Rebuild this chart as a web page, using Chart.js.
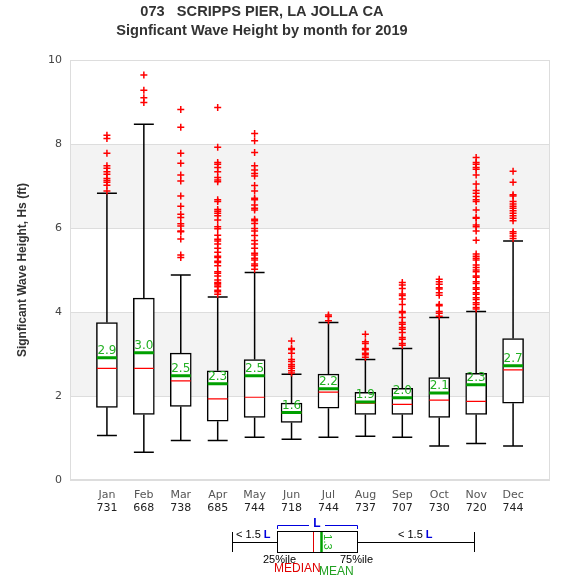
<!DOCTYPE html>
<html>
<head>
<meta charset="utf-8">
<script src="https://cdn.jsdelivr.net/npm/chart.js@4.4.0/dist/chart.umd.min.js"></script>
<style>
  body { margin: 0; background: #fff; }
</style>
</head>
<body>
<canvas id="waveChart" width="575" height="580"></canvas>
<script>
// ====== Data ======
const months = ["Jan", "Feb", "Mar", "Apr", "May", "Jun", "Jul", "Aug", "Sep", "Oct", "Nov", "Dec"];
const counts = [731, 668, 738, 685, 744, 718, 744, 737, 707, 730, 720, 744];

const lowWhisker  = [1.06, 0.66, 0.94, 0.94, 1.02, 0.97, 1.02, 1.04, 1.02, 0.81, 0.87, 0.81];
const q1          = [1.73, 1.56, 1.75, 1.40, 1.49, 1.37, 1.71, 1.56, 1.56, 1.49, 1.56, 1.83];
const medians     = [2.66, 2.66, 2.36, 1.93, 1.97, 1.60, 2.09, 1.83, 1.80, 1.90, 1.87, 2.62];
const means       = [2.91, 3.03, 2.48, 2.29, 2.48, 1.61, 2.17, 1.86, 1.96, 2.07, 2.27, 2.72];
const q3          = [3.75, 4.33, 3.02, 2.60, 2.87, 1.83, 2.52, 2.09, 2.18, 2.44, 2.54, 3.37];
const highWhisker = [6.83, 8.47, 4.88, 4.36, 4.94, 2.52, 3.75, 2.87, 3.13, 3.87, 4.01, 5.69];

const outliers = [
  [8.21, 8.13, 7.78, 7.48, 7.42, 7.34, 7.28, 7.18, 7.13, 7.09, 7.02, 6.88],
  [9.64, 9.28, 9.10, 8.99],
  [8.82, 8.40, 7.78, 7.54, 7.26, 7.12, 6.76, 6.52, 6.33, 6.25, 6.10, 6.05, 5.93, 5.91, 5.74, 5.36, 5.30],
  [8.87, 7.92, 7.56, 7.52, 7.44, 7.34, 7.20, 7.14, 7.10, 6.67, 6.63, 6.44, 6.40, 6.35, 6.29, 6.19,
   6.03, 5.98, 5.83, 5.73, 5.69, 5.62, 5.52, 5.42, 5.33, 5.30, 5.21, 5.18, 5.10, 4.96, 4.92, 4.86,
   4.76, 4.70, 4.68, 4.64, 4.60, 4.52, 4.48, 4.42],
  [8.25, 8.08, 7.80, 7.48, 7.38, 7.30, 7.24, 7.01, 6.88, 6.71, 6.67, 6.55, 6.47, 6.43, 6.21, 6.17,
   6.11, 5.99, 5.93, 5.82, 5.70, 5.62, 5.52, 5.40, 5.36, 5.28, 5.24, 5.14, 5.10, 5.02],
  [3.31, 3.13, 3.11, 3.02, 2.87, 2.82, 2.75, 2.71, 2.66, 2.60, 2.55],
  [3.93, 3.89, 3.79],
  [3.47, 3.29, 3.25, 3.13, 3.10, 3.02, 2.98, 2.92],
  [4.70, 4.64, 4.56, 4.43, 4.39, 4.31, 4.18, 4.01, 3.98, 3.87, 3.75, 3.71, 3.63, 3.59, 3.51, 3.39,
   3.35, 3.25, 3.21],
  [4.78, 4.72, 4.66, 4.58, 4.55, 4.46, 4.40, 4.18, 4.15, 4.01, 3.97, 3.90],
  [7.68, 7.56, 7.52, 7.44, 7.40, 7.26, 7.05, 6.89, 6.83, 6.75, 6.67, 6.63, 6.43, 6.25, 6.23, 6.07,
   6.03, 5.93, 5.71, 5.38, 5.33, 5.28, 5.24, 5.12, 5.06, 5.00, 4.96, 4.86, 4.83, 4.72, 4.68, 4.58,
   4.54, 4.46, 4.42, 4.34, 4.30, 4.22, 4.18, 4.11, 4.07],
  [7.35, 7.09, 6.79, 6.76, 6.63, 6.57, 6.52, 6.47, 6.41, 6.35, 6.29, 6.23, 6.17, 5.91, 5.87, 5.81, 5.75]
];

const bands = [[2, 4], [6, 8]];
const yTicks = [0, 2, 4, 6, 8, 10];

// ====== Build segment datasets ======
const HALF = 0.27; // half width of box / caps in x units
const gap = (x) => ({ x: x, y: null });

const whiskerPts = [];
const medianPts = [];
const meanPts = [];
const outlierPts = [];
months.forEach((m, i) => {
  const x = i + 1;
  whiskerPts.push({ x, y: lowWhisker[i] }, { x, y: q1[i] }, gap(x));
  whiskerPts.push({ x, y: q3[i] }, { x, y: highWhisker[i] }, gap(x));
  whiskerPts.push({ x: x - HALF, y: lowWhisker[i] }, { x: x + HALF, y: lowWhisker[i] }, gap(x));
  whiskerPts.push({ x: x - HALF, y: highWhisker[i] }, { x: x + HALF, y: highWhisker[i] }, gap(x));
  medianPts.push({ x: x - HALF, y: medians[i] }, { x: x + HALF, y: medians[i] }, gap(x));
  meanPts.push({ x: x - HALF, y: means[i] }, { x: x + HALF, y: means[i] }, gap(x));
  outliers[i].forEach(v => outlierPts.push({ x, y: v }));
});

// ====== Plugins ======
const bandsPlugin = {
  id: "bands",
  beforeDraw(chart) {
    const { ctx, chartArea: a, scales: { y } } = chart;
    ctx.save();
    ctx.fillStyle = "#f3f3f3";
    bands.forEach(([lo, hi]) => {
      const top = y.getPixelForValue(hi), bot = y.getPixelForValue(lo);
      ctx.fillRect(a.left, top, a.right - a.left, bot - top);
    });
    ctx.restore();
  },
  beforeDatasetsDraw(chart) {
    const { ctx, chartArea: a } = chart;
    ctx.save();
    ctx.strokeStyle = "#dddddd";
    ctx.lineWidth = 1;
    ctx.strokeRect(a.left + 0.5, a.top + 0.5, a.right - a.left - 1, a.bottom - a.top - 1);
    ctx.restore();
  }
};

const labelsPlugin = {
  id: "labels",
  afterDatasetsDraw(chart) {
    const { ctx, scales: { x, y } } = chart;
    ctx.save();
    ctx.font = "12px 'DejaVu Sans'";
    ctx.textAlign = "center";
    ctx.textBaseline = "bottom";
    ctx.fillStyle = "#22b022";
    means.forEach((v, i) => {
      ctx.fillText(v.toFixed(1), x.getPixelForValue(i + 1), y.getPixelForValue(v) - 1);
    });
    ctx.font = "11px 'DejaVu Sans'";
    ctx.fillStyle = "#222";
    ctx.textBaseline = "middle";
    counts.forEach((c, i) => {
      ctx.fillText(String(c), x.getPixelForValue(i + 1), 508);
    });
    ctx.restore();
  }
};

const titlePlugin = {
  id: "titles",
  afterDraw(chart) {
    const { ctx } = chart;
    ctx.save();
    ctx.fillStyle = "#333";
    ctx.textAlign = "center";
    ctx.textBaseline = "middle";
    ctx.font = "bold 14.6px 'Liberation Sans'";
    ctx.fillText("073   SCRIPPS PIER, LA JOLLA CA", 262, 12);
    ctx.fillText("Signficant Wave Height by month for 2019", 262, 31);
    ctx.restore();
  }
};

const keyPlugin = {
  id: "boxKey",
  afterDraw(chart) {
    const { ctx } = chart;
    ctx.save();
    ctx.strokeStyle = "#000";
    ctx.lineWidth = 1;
    // whiskers
    ctx.beginPath();
    ctx.moveTo(232.5, 532); ctx.lineTo(232.5, 552);
    ctx.moveTo(232.5, 542.5); ctx.lineTo(277.5, 542.5);
    ctx.moveTo(357.5, 542.5); ctx.lineTo(474.5, 542.5);
    ctx.moveTo(474.5, 532); ctx.lineTo(474.5, 552);
    ctx.stroke();
    ctx.strokeRect(277.5, 531.5, 80, 21);
    // median / mean
    ctx.strokeStyle = "#e00000";
    ctx.beginPath(); ctx.moveTo(313.5, 532); ctx.lineTo(313.5, 552); ctx.stroke();
    ctx.strokeStyle = "#00a000";
    ctx.lineWidth = 2.5;
    ctx.beginPath(); ctx.moveTo(321.5, 532); ctx.lineTo(321.5, 552); ctx.stroke();
    // rotated mean value
    ctx.save();
    ctx.translate(327, 542);
    ctx.rotate(Math.PI / 2);
    ctx.fillStyle = "#22b022";
    ctx.font = "11px 'Liberation Sans'";
    ctx.textAlign = "center";
    ctx.textBaseline = "middle";
    ctx.fillText("1.3", 0, 0);
    ctx.restore();
    // blue bracket
    ctx.strokeStyle = "#0000dd";
    ctx.lineWidth = 1;
    ctx.beginPath();
    ctx.moveTo(277.5, 529); ctx.lineTo(277.5, 525.5); ctx.lineTo(309, 525.5);
    ctx.moveTo(325, 525.5); ctx.lineTo(357.5, 525.5); ctx.lineTo(357.5, 529);
    ctx.stroke();
    ctx.fillStyle = "#0000dd";
    ctx.font = "bold 12px 'Liberation Sans'";
    ctx.textAlign = "center";
    ctx.textBaseline = "middle";
    ctx.fillText("L", 317, 524);
    // "< 1.5 L" labels
    ctx.textAlign = "left";
    [[236, 535], [398, 535]].forEach(([x0, y0]) => {
      ctx.font = "11px 'Liberation Sans'";
      ctx.fillStyle = "#000";
      ctx.fillText("< 1.5 ", x0, y0);
      const w = ctx.measureText("< 1.5 ").width;
      ctx.font = "bold 11px 'Liberation Sans'";
      ctx.fillStyle = "#0000dd";
      ctx.fillText("L", x0 + w, y0);
    });
    ctx.font = "11px 'Liberation Sans'";
    ctx.fillStyle = "#000";
    ctx.fillText("25%ile", 263, 560);
    ctx.fillText("75%ile", 340, 560);
    ctx.font = "12px 'Liberation Sans'";
    ctx.fillStyle = "#e00000";
    ctx.fillText("MEDIAN", 274, 569);
    ctx.fillStyle = "#22a022";
    ctx.fillText("MEAN", 319, 572);
    ctx.restore();
  }
};

// ====== Chart.js ======
const ctx = document.getElementById("waveChart").getContext("2d");

const waveChart = new Chart(ctx, {
  type: "bar",
  data: {
    datasets: [
      {
        type: "scatter",
        data: outlierPts,
        pointStyle: "cross",
        pointRadius: 3.5,
        borderColor: "#ff0000",
        borderWidth: 1.5,
        order: 0
      },
      {
        type: "line",
        data: meanPts,
        borderColor: "#00a000",
        borderWidth: 3,
        pointRadius: 0,
        spanGaps: false,
        order: 1
      },
      {
        type: "line",
        data: medianPts,
        borderColor: "#ff0000",
        borderWidth: 1.2,
        pointRadius: 0,
        spanGaps: false,
        order: 1
      },
      {
        type: "bar",
        data: months.map((m, i) => ({ x: i + 1, y: [q1[i], q3[i]] })),
        backgroundColor: "#ffffff",
        borderColor: "#000000",
        borderWidth: 1.5,
        borderSkipped: false,
        barThickness: 21,
        order: 2
      },
      {
        type: "line",
        data: whiskerPts,
        borderColor: "#000000",
        borderWidth: 1.5,
        pointRadius: 0,
        spanGaps: false,
        order: 3
      }
    ]
  },
  plugins: [bandsPlugin, labelsPlugin, titlePlugin, keyPlugin],
  options: {
    responsive: false,
    animation: false,
    layout: { padding: { left: 0, right: 25, top: 60, bottom: 60 } },
    plugins: {
      legend: { display: false },
      tooltip: { enabled: false },
      title: { display: false }
    },
    scales: {
      x: {
        type: "linear",
        min: 0,
        max: 13,
        offset: false,
        grid: { display: false },
        border: { display: false },
        ticks: {
          stepSize: 1,
          autoSkip: false,
          maxRotation: 0,
          padding: 1,
          color: "#555",
          font: { family: "DejaVu Sans", size: 11 },
          callback: (v) => months[v - 1] || ""
        },
        afterFit: (s) => { s.height = 40; }
      },
      y: {
        min: 0,
        max: 10,
        afterBuildTicks: (s) => { s.ticks = yTicks.map(v => ({ value: v })); },
        grid: { color: "#dddddd", drawTicks: false },
        border: { display: false },
        ticks: {
          padding: 8,
          color: "#444",
          font: { family: "DejaVu Sans", size: 11 }
        },
        title: {
          display: true,
          text: "Signficant Wave Height, Hs (ft)",
          color: "#333",
          font: { family: "Liberation Sans", size: 12, weight: "bold" },
          padding: { top: 15, bottom: 0 }
        },
        afterFit: (s) => { s.width = 70; }
      }
    }
  }
});
</script>
</body>
</html>
